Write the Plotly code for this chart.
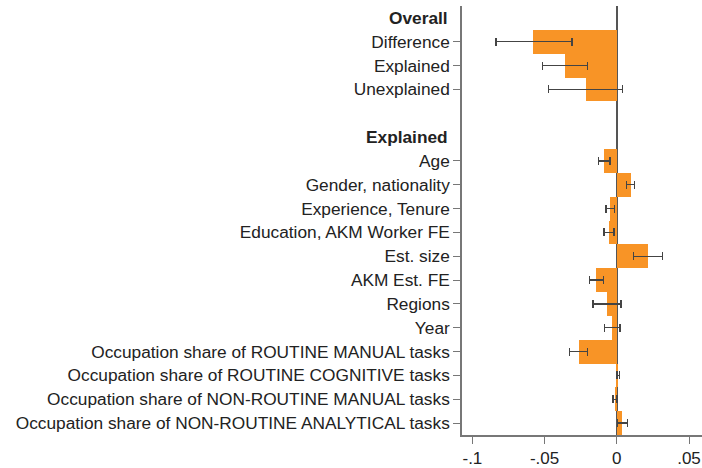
import plotly.graph_objects as go

# rows from top to bottom; None value = header / blank row
row_labels = [
    "Overall", "Difference", "Explained", "Unexplained", "",
    "Explained", "Age", "Gender, nationality", "Experience, Tenure",
    "Education, AKM Worker FE", "Est. size", "AKM Est. FE", "Regions", "Year",
    "Occupation share of ROUTINE MANUAL tasks",
    "Occupation share of ROUTINE COGNITIVE tasks",
    "Occupation share of NON-ROUTINE MANUAL tasks",
    "Occupation share of NON-ROUTINE ANALYTICAL tasks",
]
header_rows = ["Overall", "Explained"]
header_index = [0, 5]

values = [None, -0.0577, -0.0358, -0.0214, None,
          None, -0.0088, 0.0099, -0.0046, -0.0051, 0.0219, -0.0143, -0.0069, -0.0030,
          -0.0265, 0.0010, -0.0006, 0.0039]
ci_low = [None, -0.0837, -0.0514, -0.0473, None,
          None, -0.0127, 0.0069, -0.0076, -0.0088, 0.0115, -0.0190, -0.0166, -0.0086,
          -0.0328, 0.0001, -0.0026, 0.0004]
ci_high = [None, -0.0311, -0.0203, 0.0041, None,
           None, -0.0046, 0.0122, -0.0017, -0.0019, 0.0315, -0.0093, 0.0028, 0.0023,
           -0.0203, 0.0020, 0.0000, 0.0076]

x_tickvals = [-0.1, -0.05, 0, 0.05]
x_ticktext = ["-.1", "-.05", "0", ".05"]

ys, xs, plus, minus, tickvals, ticktext = [], [], [], [], [], []
for i, (lab, v, lo, hi) in enumerate(zip(row_labels, values, ci_low, ci_high)):
    if v is None:
        continue
    ys.append(i)
    xs.append(v)
    plus.append(hi - v)
    minus.append(v - lo)
    tickvals.append(i)
    ticktext.append(lab)

FONT = "Liberation Sans, Arial, sans-serif"

fig = go.Figure()
fig.add_trace(go.Bar(
    x=xs, y=ys, orientation="h", width=1.0,
    marker=dict(color="rgb(248,148,38)", line=dict(width=0)),
    error_x=dict(type="data", symmetric=False, array=plus, arrayminus=minus,
                 color="#444444", thickness=1.4, width=4),
    showlegend=False,
))

for idx, lab in zip(header_index, header_rows):
    fig.add_annotation(x=0, xref="paper", y=idx, yref="y", text="<b>" + lab + "</b>",
                       showarrow=False, xanchor="right", yanchor="middle", xshift=-12,
                       font=dict(family=FONT, size=17.3, color="#222222"))

fig.update_layout(
    width=702, height=468,
    margin=dict(l=462, r=0, t=6, b=31),
    plot_bgcolor="white", paper_bgcolor="white",
    bargap=0,
    font=dict(family=FONT, color="#222222"),
    xaxis=dict(range=[-0.1072, 0.059], tickvals=x_tickvals, ticktext=x_ticktext,
               showgrid=False, zeroline=True, zerolinecolor="#555555", zerolinewidth=1.6,
               showline=True, linecolor="#777777", linewidth=1.5,
               ticks="outside", ticklen=7, tickcolor="#777777", tickwidth=1.2,
               tickfont=dict(size=17, color="#222222")),
    yaxis=dict(range=[17.5, -0.5], tickvals=tickvals, ticktext=ticktext,
               showgrid=False, zeroline=False,
               showline=True, linecolor="#777777", linewidth=1.5,
               ticks="outside", ticklen=7, tickcolor="#777777", tickwidth=1.2,
               tickfont=dict(size=17.3, color="#222222")),
)

fig.write_html("out.html")
